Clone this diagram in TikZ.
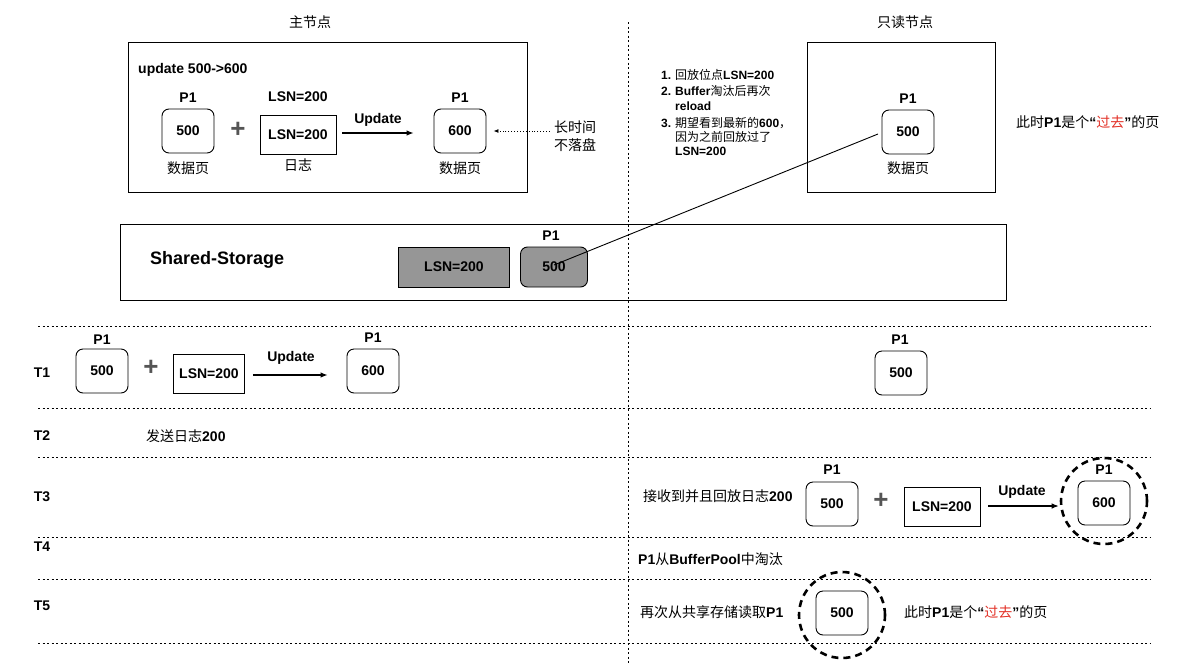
\documentclass[tikz,border=0pt]{standalone}
\usepackage{fontspec}
\setmainfont{Liberation Sans}
\newfontfamily\cjk{Noto Sans CJK SC}
\usetikzlibrary{arrows.meta}
\newcommand\zh[1]{{\cjk #1}}
\definecolor{stgray}{RGB}{150,150,150}
\definecolor{pastred}{RGB}{226,48,38}
\definecolor{plusgray}{RGB}{85,85,85}
\begin{document}
\begin{tikzpicture}[x=1pt,y=-1pt,
 every node/.style={inner sep=0pt, font=\fontsize{14}{17}\selectfont},
 pagebox/.style={draw, rounded corners=7pt, minimum width=52pt, minimum height=44pt, line width=0.9pt, font=\fontsize{14}{17}\selectfont\bfseries},
 logbox/.style={draw, minimum width=76pt, minimum height=39pt, line width=0.9pt, font=\fontsize{14}{17}\selectfont\bfseries},
 lbl/.style={font=\fontsize{14}{17}\selectfont\bfseries},
 zhlbl/.style={font=\fontsize{14}{17}\selectfont\cjk},
 small/.style={font=\fontsize{12}{14}\selectfont, anchor=west},
 plus/.style={font=\fontsize{26}{26}\selectfont\bfseries, text=plusgray},
 arr/.style={-{Latex[length=7pt,width=5.5pt]}, line width=1.1pt},
 sep/.style={dash pattern=on 2pt off 2.5pt, line width=0.9pt},
 ring/.style={draw, circle, dash pattern=on 7pt off 5pt, line width=2.6pt, minimum size=86pt},
 frame/.style={draw, line width=1pt},
]
\useasboundingbox (0,0) rectangle (1190,664);

% titles and column divider
\node[zhlbl] (tmain) at (310,22) {主节点};
\node[zhlbl] (tread) at (905,22) {只读节点};
\draw[sep] (628,22) -- (628,664);

% ---------- main node ----------
\draw[frame] (128,42) rectangle (527,192);
\node[lbl, anchor=west] (upd) at (138,70) {update 500->600};
\node[lbl] (p1a) at (188,98) {P1};
\node[pagebox] (a500) at (188,131) {500};
\node[zhlbl] (a500l) at (188,168) {数据页};
\node[plus] (aplus) at (238,130) {+};
\node[lbl] (alsnt) at (298,97) {LSN=200};
\node[logbox] (alog) at (298,135) {LSN=200};
\node[zhlbl] (alogl) at (298,165) {日志};
\node[lbl] (aupd) at (378,120) {Update};
\node[lbl] (p1b) at (460,98) {P1};
\node[pagebox] (a600) at (460,131) {600};
\node[zhlbl] (a600l) at (460,168) {数据页};
\draw[arr] ([xshift=6pt,yshift=2pt]alog.east) -- ([xshift=-20pt,yshift=2pt]alog.east -| a600.west);
\node[zhlbl, align=left, font=\fontsize{14}{18}\selectfont\cjk] (note) at (575,136) {长时间\\不落盘};
\draw[dotted, line width=0.9pt, -{Latex[length=5pt,width=4pt]}] ([xshift=-4pt]note.west |- a600.east) -- ([xshift=7pt]a600.east);

% ---------- read-only node ----------
\draw[frame] (807,42) rectangle (995,192);
\node[lbl] (p1r) at (908,99) {P1};
\node[pagebox] (r500) at (908,132) {500};
\node[zhlbl] (r500l) at (908,168) {数据页};

\node[small] (n1) at (661,75) {\textbf{1.}};
\node[small] (l1) at (675,75) {\zh{回放位点}\textbf{LSN=200}};
\node[small] (n2) at (661,91) {\textbf{2.}};
\node[small] (l2) at (675,91) {\textbf{Buffer}\zh{淘汰后再次}};
\node[small] (l2b) at (675,106) {\textbf{reload}};
\node[small] (n3) at (661,123) {\textbf{3.}};
\node[small] (l3) at (675,123) {\zh{期望看到最新的}\textbf{600}\zh{，}};
\node[small] (l3b) at (675,137) {\zh{因为之前回放过了}};
\node[small] (l3c) at (675,151) {\textbf{LSN=200}};

\node[anchor=west] (past1) at (1016,122) {\zh{此时}\textbf{P1}\zh{是个}\textbf{“}\zh{\color{pastred}过去}\textbf{”}\zh{的页}};

% ---------- shared storage ----------
\draw[frame] (120,224) rectangle (1006,300);
\node[font=\fontsize{18}{20}\selectfont\bfseries, anchor=west] (ss) at (150,260) {Shared-Storage};
\node[logbox, fill=stgray, minimum width=111pt, minimum height=40pt] (slog) at (454,267) {LSN=200};
\node[pagebox, fill=stgray, minimum width=67pt, minimum height=40pt] (s500) at (554,267) {500};
\node[lbl] (sp1) at (551,236) {P1};
\draw[line width=0.9pt] ([yshift=2pt]s500.center) -- ([xshift=-30pt,yshift=-2pt]r500.center);

% ---------- time line separators ----------
\draw[sep] (38,326) -- (1150,326);
\draw[sep] (38,408) -- (1150,408);
\draw[sep] (38,457) -- (1150,457);
\draw[sep] (38,537) -- (1150,537);
\draw[sep] (38,579) -- (1150,579);
\draw[sep] (38,643) -- (1150,643);

\node[lbl] (T1) at (42,373) {T1};
\node[lbl] (T2) at (42,436) {T2};
\node[lbl] (T3) at (42,497) {T3};
\node[lbl] (T4) at (42,547) {T4};
\node[lbl] (T5) at (42,606) {T5};

% T1
\node[lbl] (t1p1a) at (102,340) {P1};
\node[pagebox] (t1a) at (102,371) {500};
\node[plus] (t1plus) at (151,368) {+};
\node[logbox, minimum width=71pt] (t1log) at (209,374) {LSN=200};
\node[lbl] (t1upd) at (291,358) {Update};
\node[lbl] (t1p1b) at (373,338) {P1};
\node[pagebox] (t1b) at (373,371) {600};
\draw[arr] ([xshift=8pt,yshift=-1pt]t1log.east) -- ([xshift=-19pt,yshift=-1pt]t1log.east -| t1b.west);
\node[lbl] (t1p1r) at (900,340) {P1};
\node[pagebox] (t1r) at (901,373) {500};

% T2
\node[anchor=west] (t2txt) at (146,436) {\zh{发送日志}\textbf{200}};

% T3
\node[anchor=west] (t3txt) at (643,496) {\zh{接收到并且回放日志}\textbf{200}};
\node[lbl] (t3p1a) at (832,470) {P1};
\node[pagebox] (t3a) at (832,504) {500};
\node[plus] (t3plus) at (881,501) {+};
\node[logbox] (t3log) at (942,507) {LSN=200};
\node[lbl] (t3upd) at (1022,492) {Update};
\node[ring] (t3ring) at (1104,501) {};
\node[lbl] (t3p1b) at (1104,470) {P1};
\node[pagebox] (t3b) at (1104,503) {600};
\draw[arr] ([xshift=8pt,yshift=1pt]t3log.east) -- ([xshift=-1pt,yshift=1pt]t3log.east -| t3ring.west);

% T4
\node[anchor=west] (t4txt) at (638,559) {\textbf{P1}\zh{从}\textbf{BufferPool}\zh{中淘汰}};

% T5
\node[anchor=west] (t5txt) at (640,612) {\zh{再次从共享存储读取}\textbf{P1}};
\node[ring] (t5ring) at (842,615) {};
\node[pagebox] (t5a) at (842,613) {500};
\node[anchor=west] (t5past) at (904,612) {\zh{此时}\textbf{P1}\zh{是个}\textbf{“}\zh{\color{pastred}过去}\textbf{”}\zh{的页}};
\end{tikzpicture}
\end{document}
